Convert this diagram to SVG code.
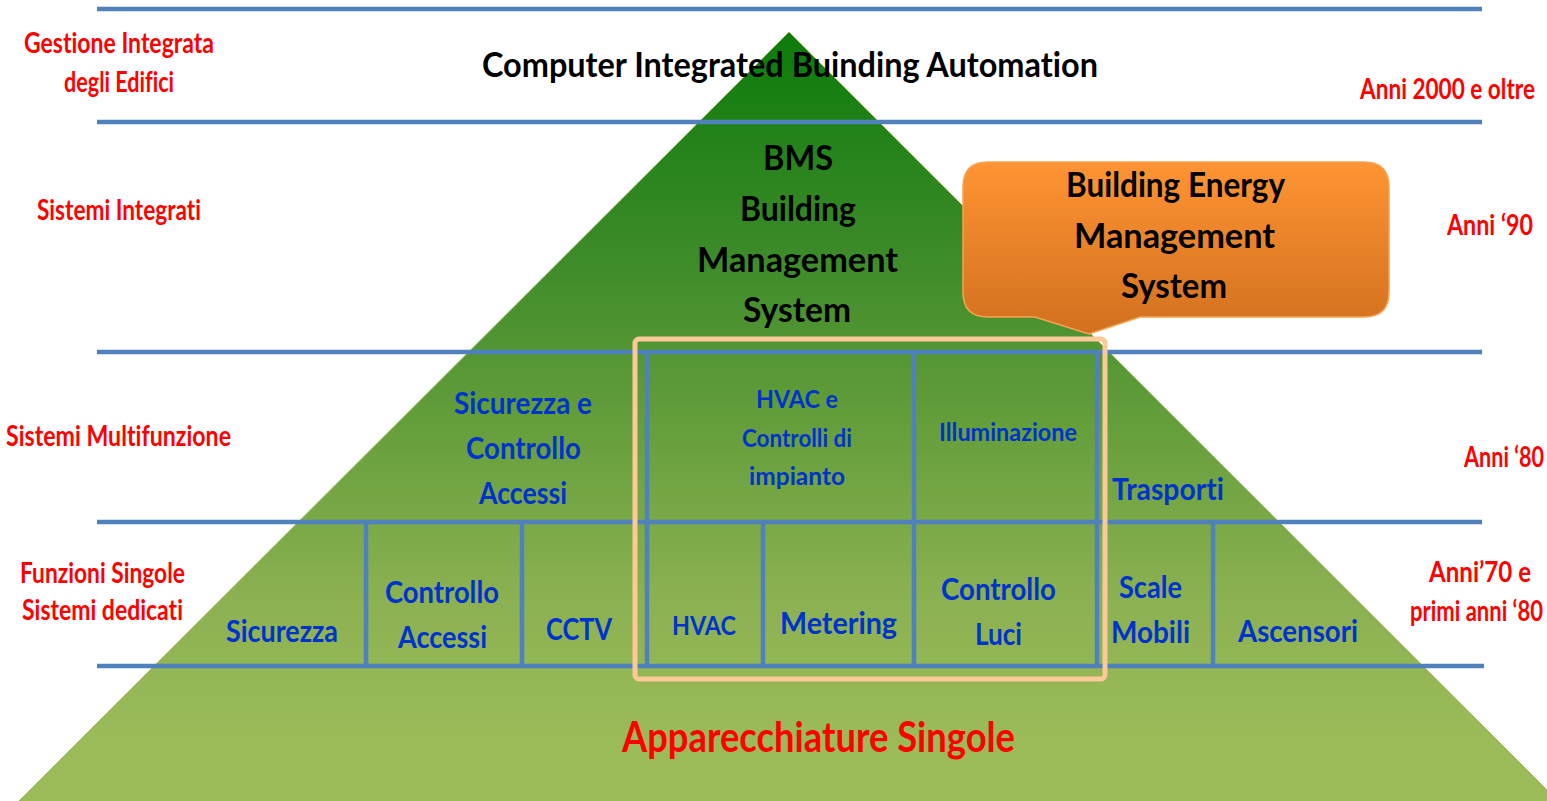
<svg xmlns="http://www.w3.org/2000/svg" width="1547" height="801" viewBox="0 0 1547 801">
<defs>
<linearGradient id="gPyr" gradientUnits="userSpaceOnUse" x1="0" y1="32" x2="0" y2="801">
<stop offset="0" stop-color="#0b7b0b"/>
<stop offset="0.28" stop-color="#3b8a28"/>
<stop offset="0.53" stop-color="#68a03d"/>
<stop offset="0.74" stop-color="#8cb152"/>
<stop offset="0.92" stop-color="#9bbb59"/>
</linearGradient>
<linearGradient id="gCall" x1="0" y1="0" x2="0" y2="1">
<stop offset="0" stop-color="#fe9433"/>
<stop offset="1" stop-color="#d2701f"/>
</linearGradient>
<style>
text{font-family:Lato,"Open Sans","Liberation Sans",sans-serif;font-weight:700;text-anchor:middle;font-variant-ligatures:none}
.red{fill:#ff0000;font-size:28px}
.blk{fill:#000000;font-size:35px}
.blu{fill:#0033cc;font-size:31px}
.bls{fill:#0033cc;font-size:25px}
.grid line{stroke:#4f81bd;stroke-width:4.5}
</style>
</defs>
<rect width="1547" height="801" fill="#ffffff"/>

<g id="pyramid">
<polygon points="789,32 19,801 1558,801" fill="url(#gPyr)" stroke="#9bbb59" stroke-width="1"/>
</g>

<g id="connectors" class="grid">
<line x1="97" y1="9" x2="1482" y2="9"/>
<line x1="97" y1="122" x2="1482" y2="122"/>
<line x1="97" y1="352" x2="1482" y2="352"/>
<line x1="97" y1="522" x2="1482" y2="522"/>
<line x1="97" y1="666" x2="1484" y2="666"/>
<line x1="647" y1="352" x2="647" y2="666"/>
<line x1="914" y1="352" x2="914" y2="666"/>
<line x1="1097" y1="352" x2="1097" y2="666"/>
<line x1="366" y1="522" x2="366" y2="666"/>
<line x1="522" y1="522" x2="522" y2="666"/>
<line x1="763" y1="522" x2="763" y2="666"/>
<line x1="1213" y1="522" x2="1213" y2="666"/>
</g>

<g id="highlight-box">
<rect x="635" y="339" width="470" height="340" rx="4" fill="none" stroke="#fbca98" stroke-width="5"/>
</g>

<g id="callout-bems">
<path d="M988,162 H1364 Q1389,162 1389,187 V292 Q1389,317 1364,317 H1140 L1089,334 L1035,317 H988 Q963,317 963,292 V187 Q963,162 988,162 Z" fill="url(#gCall)" stroke="#f8a350" stroke-width="1.5"/>
<text class="blk" font-size="34" x="1175.5" y="197" textLength="219" lengthAdjust="spacingAndGlyphs">Building Energy</text>
<text class="blk" font-size="34" x="1174.5" y="248" textLength="201" lengthAdjust="spacingAndGlyphs">Management</text>
<text class="blk" font-size="34" x="1174" y="298" textLength="106" lengthAdjust="spacingAndGlyphs">System</text>
</g>

<g id="level-labels-left">
<text class="red" x="119" y="53" textLength="190" lengthAdjust="spacingAndGlyphs">Gestione Integrata</text>
<text class="red" x="119" y="92" textLength="110" lengthAdjust="spacingAndGlyphs">degli Edifici</text>
<text class="red" x="119" y="220" textLength="164" lengthAdjust="spacingAndGlyphs">Sistemi Integrati</text>
<text class="red" x="118.5" y="446" textLength="225" lengthAdjust="spacingAndGlyphs">Sistemi Multifunzione</text>
<text class="red" x="102.5" y="583" textLength="165" lengthAdjust="spacingAndGlyphs">Funzioni Singole</text>
<text class="red" x="102.5" y="620" textLength="161" lengthAdjust="spacingAndGlyphs">Sistemi dedicati</text>
</g>

<g id="level-labels-right">
<text class="red" x="1447.5" y="99" textLength="175" lengthAdjust="spacingAndGlyphs">Anni 2000 e oltre</text>
<text class="red" x="1490" y="235" textLength="86" lengthAdjust="spacingAndGlyphs">Anni ‘90</text>
<text class="red" x="1464" y="467" style="text-anchor:start" textLength="80" lengthAdjust="spacingAndGlyphs">Anni ‘80</text>
<text class="red" x="1480" y="582" textLength="102" lengthAdjust="spacingAndGlyphs">Anni’70 e</text>
<text class="red" x="1410" y="621" style="text-anchor:start" textLength="133" lengthAdjust="spacingAndGlyphs">primi anni ‘80</text>
</g>

<g id="node-cibA">
<text class="blk" x="790" y="77" textLength="616" lengthAdjust="spacingAndGlyphs">Computer Integrated Buinding Automation</text>
</g>

<g id="node-bms">
<text class="blk" x="798" y="170" textLength="70" lengthAdjust="spacingAndGlyphs">BMS</text>
<text class="blk" x="798" y="221" textLength="116" lengthAdjust="spacingAndGlyphs">Building</text>
<text class="blk" x="797.5" y="272" textLength="201" lengthAdjust="spacingAndGlyphs">Management</text>
<text class="blk" x="797" y="322" textLength="108" lengthAdjust="spacingAndGlyphs">System</text>
</g>

<g id="node-sicurezza-controllo">
<text class="blu" x="523" y="414" textLength="138" lengthAdjust="spacingAndGlyphs">Sicurezza e</text>
<text class="blu" x="523.5" y="459" textLength="115" lengthAdjust="spacingAndGlyphs">Controllo</text>
<text class="blu" x="523" y="504" textLength="88" lengthAdjust="spacingAndGlyphs">Accessi</text>
</g>

<g id="node-hvac-controlli">
<text class="bls" x="797" y="408" textLength="82" lengthAdjust="spacingAndGlyphs">HVAC e</text>
<text class="bls" x="797" y="447" textLength="110" lengthAdjust="spacingAndGlyphs">Controlli di</text>
<text class="bls" x="797" y="485" textLength="96" lengthAdjust="spacingAndGlyphs">impianto</text>
</g>

<g id="node-illuminazione">
<text class="bls" x="1008" y="441" textLength="138" lengthAdjust="spacingAndGlyphs">Illuminazione</text>
</g>

<g id="node-trasporti">
<text class="blu" x="1168" y="500" textLength="112" lengthAdjust="spacingAndGlyphs">Trasporti</text>
</g>

<g id="node-sicurezza">
<text class="blu" x="282" y="642" textLength="112" lengthAdjust="spacingAndGlyphs">Sicurezza</text>
</g>

<g id="node-controllo-accessi">
<text class="blu" x="442" y="603" textLength="114" lengthAdjust="spacingAndGlyphs">Controllo</text>
<text class="blu" x="442.5" y="648" textLength="89" lengthAdjust="spacingAndGlyphs">Accessi</text>
</g>

<g id="node-cctv">
<text class="blu" x="579" y="640" textLength="66" lengthAdjust="spacingAndGlyphs">CCTV</text>
</g>

<g id="node-hvac">
<text class="bls" style="font-size:27px" x="704" y="635" textLength="64" lengthAdjust="spacingAndGlyphs">HVAC</text>
</g>

<g id="node-metering">
<text class="blu" x="838.5" y="634" textLength="117" lengthAdjust="spacingAndGlyphs">Metering</text>
</g>

<g id="node-controllo-luci">
<text class="blu" x="998.5" y="600" textLength="115" lengthAdjust="spacingAndGlyphs">Controllo</text>
<text class="blu" x="998.5" y="645" textLength="47" lengthAdjust="spacingAndGlyphs">Luci</text>
</g>

<g id="node-scale-mobili">
<text class="blu" x="1150.5" y="598" textLength="63" lengthAdjust="spacingAndGlyphs">Scale</text>
<text class="blu" x="1150.5" y="643" textLength="79" lengthAdjust="spacingAndGlyphs">Mobili</text>
</g>

<g id="node-ascensori">
<text class="blu" x="1298" y="642" textLength="120" lengthAdjust="spacingAndGlyphs">Ascensori</text>
</g>

<g id="node-apparecchiature">
<text class="red" style="font-size:42px" x="818.5" y="752" textLength="393" lengthAdjust="spacingAndGlyphs">Apparecchiature Singole</text>
</g>
</svg>
